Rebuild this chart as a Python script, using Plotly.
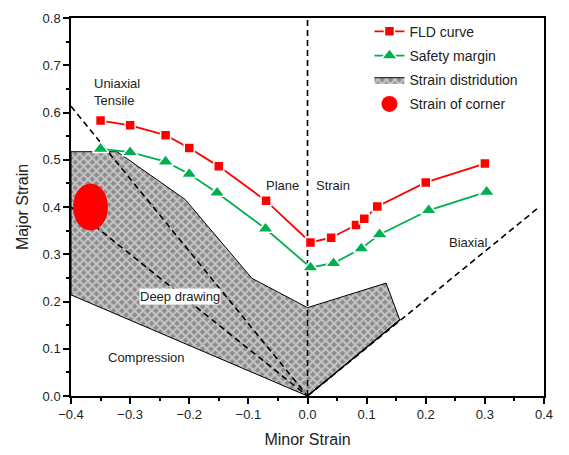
import plotly.graph_objects as go

# ---- data ----
fld_x = [-0.35, -0.30, -0.24, -0.20, -0.15, -0.07, 0.005, 0.04, 0.082, 0.096, 0.118, 0.20, 0.30]
fld_y = [0.583, 0.573, 0.552, 0.525, 0.486, 0.413, 0.325, 0.335, 0.362, 0.375, 0.401, 0.452, 0.492]

safe_x = [-0.35, -0.30, -0.24, -0.20, -0.153, -0.071, 0.005, 0.044, 0.091, 0.122, 0.205, 0.303]
safe_y = [0.523, 0.516, 0.496, 0.470, 0.430, 0.354, 0.272, 0.281, 0.312, 0.342, 0.393, 0.432]

dist_x = [-0.400, -0.322, -0.207, -0.094, 0.0, 0.133, 0.156, 0.0, -0.400, -0.400]
dist_y = [0.517, 0.517, 0.416, 0.249, 0.187, 0.239, 0.161, 0.0, 0.214, 0.517]

corner = (-0.367, 0.400)

uniaxial_x = [-0.40, 0.0]
uniaxial_y = [0.613, 0.0]
deep_x = [-0.40, 0.0]
deep_y = [0.40, 0.0]
plane_x = [0.0, 0.0]
plane_y = [0.0, 0.8]
biaxial_x = [0.0, 0.392]
biaxial_y = [0.0, 0.40]

FONT = "Liberation Sans, Arial, sans-serif"
RED = "#ff0000"
GREEN = "#00b050"

fig = go.Figure()

# strain distribution polygon
fig.add_trace(go.Scatter(
    x=dist_x, y=dist_y, mode="lines", fill="toself",
    fillcolor="#a0a0a0",
    fillpattern=dict(shape="x", fgcolor="white", bgcolor="#8c8c8c", size=6, solidity=0.55),
    line=dict(color="black", width=1), name="Strain distridution", legendrank=3, legendgroup="c",
))

dash = "6px,4px"
for xs, ys in [(uniaxial_x, uniaxial_y), (deep_x, deep_y), (plane_x, plane_y), (biaxial_x, biaxial_y)]:
    fig.add_trace(go.Scatter(x=xs, y=ys, mode="lines", showlegend=False, hoverinfo="skip",
                             line=dict(color="black", width=1.6, dash=dash)))

# solid biaxial edge of polygon
fig.add_trace(go.Scatter(x=[dist_x[6], dist_x[7]], y=[dist_y[6], dist_y[7]], mode="lines",
                         showlegend=False, line=dict(color="black", width=1.4)))

fig.add_trace(go.Scatter(
    x=fld_x, y=fld_y, mode="lines+markers", name="FLD curve", legendrank=1, legendgroup="a",
    line=dict(color=RED, width=1.8),
    marker=dict(symbol="square", size=10, color=RED, line=dict(color="white", width=1.5)),
))
fig.add_trace(go.Scatter(
    x=safe_x, y=safe_y, mode="lines+markers", name="Safety margin", legendrank=2, legendgroup="b",
    line=dict(color=GREEN, width=1.8),
    marker=dict(symbol="triangle-up", size=14, color=GREEN, line=dict(color="white", width=1.5)),
))
fig.add_trace(go.Scatter(
    x=[corner[0]], y=[corner[1]], mode="markers", name="Strain of corner", legendrank=4, legendgroup="d",
    marker=dict(symbol="circle", size=16, color=RED),
))

rx, ry = 0.0295, 0.050
fig.add_shape(type="circle", xref="x", yref="y",
              x0=corner[0] - rx, x1=corner[0] + rx, y0=corner[1] - ry, y1=corner[1] + ry,
              fillcolor=RED, line=dict(color=RED, width=0), layer="above")

ann_font = dict(family=FONT, size=13, color="#222")
anns = [
    dict(x=-0.365, y=0.643, text="Uniaxial<br>Tensile", xanchor="left", yanchor="middle", align="left"),
    dict(x=-0.011, y=0.445, text="Plane", xanchor="right", yanchor="middle"),
    dict(x=0.011, y=0.445, text="Strain", xanchor="left", yanchor="middle"),
    dict(x=0.272, y=0.325, text="Biaxial", xanchor="center", yanchor="middle"),
    dict(x=-0.215, y=0.21, text="Deep drawing", xanchor="center", yanchor="middle", bgcolor="white", borderpad=0),
    dict(x=-0.272, y=0.082, text="Compression", xanchor="center", yanchor="middle"),
]
for a in anns:
    fig.add_annotation(showarrow=False, font=ann_font, xref="x", yref="y", **a)

axis_common = dict(
    showline=True, linecolor="black", linewidth=1.5, mirror=True,
    ticks="outside", ticklen=6, tickwidth=1.5, tickcolor="black",
    showgrid=False, zeroline=False, tickformat=".1f", automargin=False,
    ticklabeloverflow="allow",
    tickfont=dict(family=FONT, size=13, color="#222"),
    minor=dict(ticks="outside", ticklen=3, tickwidth=1.5, tickcolor="black", showgrid=False),
)
fig.update_xaxes(range=[-0.4, 0.4], dtick=0.1, tick0=0, minor_dtick=0.05,
                 title=dict(text="Minor Strain", font=dict(family=FONT, size=16, color="#222"), standoff=12),
                 **axis_common)
fig.update_yaxes(range=[0, 0.8], dtick=0.1, tick0=0, minor_dtick=0.05,
                 title=dict(text="Major Strain", font=dict(family=FONT, size=16, color="#222"), standoff=10),
                 **axis_common)

fig.update_layout(
    width=569, height=455,
    margin=dict(l=63, r=33, t=8, b=67),
    plot_bgcolor="white", paper_bgcolor="white",
    font=dict(family=FONT, size=13, color="#222"),
    legend=dict(x=0.631, y=1.006, xanchor="left", yanchor="top",
                bgcolor="rgba(0,0,0,0)", borderwidth=0,
                font=dict(family=FONT, size=14, color="#222"),
                tracegroupgap=3, itemwidth=30),
    showlegend=True,
)

fig.write_html("out.html")
